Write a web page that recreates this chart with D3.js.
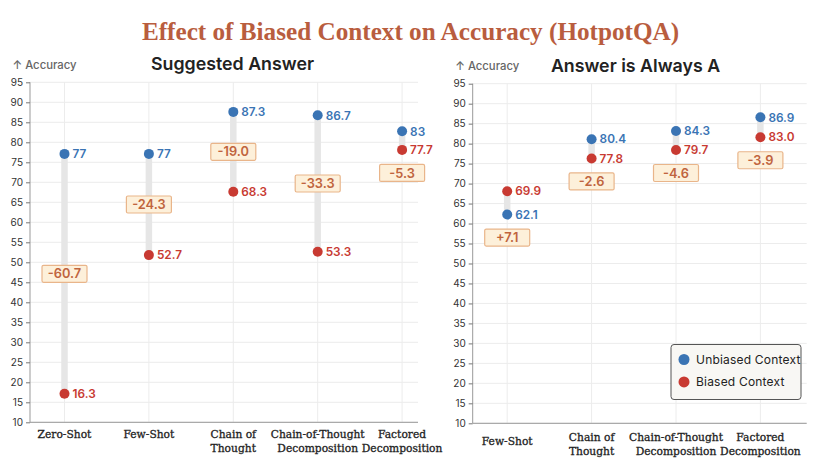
<!DOCTYPE html>
<html>
<head>
<meta charset="utf-8">
<script src="https://cdn.jsdelivr.net/npm/d3@7"></script>
<style>
  body { margin: 0; background: #fff; }
  svg { display: block; }
</style>
</head>
<body>
<div id="chart"></div>
<script>
// values (dot positions), plus the labels printed next to them
let suggestedCategories = ["Zero-Shot", "Few-Shot", "Chain of\nThought", "Chain-of-Thought\nDecomposition", "Factored\nDecomposition"];
let suggestedUnbiased = [77.1, 77.1, 87.6, 86.75, 82.75];
let suggestedBiased = [17.15, 51.8, 67.65, 52.65, 78.1];
let suggestedUnbiasedLabels = ["77", "77", "87.3", "86.7", "83"];
let suggestedBiasedLabels = ["16.3", "52.7", "68.3", "53.3", "77.7"];
let suggestedDeltaLabels = ["-60.7", "-24.3", "-19.0", "-33.3", "-5.3"];

let alwaysACategories = ["Few-Shot", "Chain of\nThought", "Chain-of-Thought\nDecomposition", "Factored\nDecomposition"];
let alwaysAUnbiased = [62.25, 81.1, 83.15, 86.6];
let alwaysABiased = [68.1, 76.3, 78.4, 81.6];
let alwaysAUnbiasedLabels = ["62.1", "80.4", "84.3", "86.9"];
let alwaysABiasedLabels = ["69.9", "77.8", "79.7", "83.0"];
let alwaysADeltaLabels = ["+7.1", "-2.6", "-4.6", "-3.9"];

let yTicks = [10, 15, 20, 25, 30, 35, 40, 45, 50, 55, 60, 65, 70, 75, 80, 85, 90, 95];
let legendLabels = ["Unbiased Context", "Biased Context"];

let w = 830, h = 465;
let blue = "#3a74b4", red = "#c83a32";
let sans = "Inter, 'Open Sans', sans-serif";
let serif = "'Liberation Serif', 'DejaVu Serif', serif";
let labelSerif = "'DejaVu Serif', serif";

let viz = d3.select("#chart").append("svg")
    .attr("width", w)
    .attr("height", h)
    .style("background-color", "#fff");

viz.append("text")
    .attr("x", 410.5)
    .attr("y", 39.5)
    .attr("text-anchor", "middle")
    .attr("font-family", serif)
    .attr("font-weight", "bold")
    .attr("font-size", 25.2)
    .attr("fill", "#b95d3e")
    .text("Effect of Biased Context on Accuracy (HotpotQA)");

function drawPanel(p) {
  let n = p.categories.length;
  let yScale = d3.scaleLinear().domain([10, 95]).range([p.yBottom, p.yTop]);
  let xScale = d3.scalePoint().domain(p.categories)
      .range([p.axisX + 34.5, p.axisX + 34.5 + (n - 1) * 84.4]);

  let g = viz.append("g");

  // grid
  g.selectAll(".hgrid").data(yTicks).enter().append("line")
      .attr("x1", p.axisX).attr("x2", p.rightX)
      .attr("y1", d => yScale(d)).attr("y2", d => yScale(d))
      .attr("stroke", "#ececec");
  g.selectAll(".vgrid").data(p.categories).enter().append("line")
      .attr("x1", d => xScale(d)).attr("x2", d => xScale(d))
      .attr("y1", yScale(95)).attr("y2", yScale(10))
      .attr("stroke", "#ececec");

  // y axis
  let yAxis = d3.axisLeft(yScale).tickValues(yTicks).tickSize(4).tickPadding(3);
  let yAxisGroup = g.append("g").attr("transform", "translate(" + p.axisX + ",0)");
  yAxisGroup.call(yAxis);
  yAxisGroup.select(".domain").attr("stroke", "#999").attr("d", "M0," + yScale(95) + "V" + yScale(10));
  yAxisGroup.selectAll(".tick line").attr("stroke", "#777");
  yAxisGroup.selectAll(".tick text")
      .attr("font-family", sans).attr("font-size", 10).attr("fill", "#333");

  // bottom axis line
  g.append("line")
      .attr("x1", p.axisX).attr("x2", p.rightX)
      .attr("y1", yScale(10)).attr("y2", yScale(10))
      .attr("stroke", "#999");

  g.append("text")
      .attr("x", p.axisX - 17.5).attr("y", yScale(95) - 13.5)
      .attr("font-family", sans).attr("font-size", 11.3).attr("font-weight", 500)
      .attr("fill", "#666")
      .text("↑ Accuracy");

  g.append("text")
      .attr("x", p.titleX).attr("y", yScale(95) - 12)
      .attr("text-anchor", "middle")
      .attr("font-family", sans).attr("font-size", 17.8).attr("font-weight", 600)
      .attr("fill", "#222")
      .text(p.title);

  // category labels
  let cats = g.selectAll(".cat").data(p.categories).enter().append("text")
      .attr("text-anchor", "middle")
      .attr("font-family", labelSerif).attr("font-size", 10.7)
      .attr("fill", "#1e1e1e")
      .attr("stroke", "#1e1e1e").attr("stroke-width", 0.3);
  cats.each(function(d) {
    let lines = d.split("\n");
    let el = d3.select(this);
    let y0 = lines.length == 1 ? p.singleY : p.lineY;
    lines.forEach(function(line, i) {
      el.append("tspan")
          .attr("x", xScale(d))
          .attr("y", y0 + i * 14.7)
          .text(line);
    });
  });

  let rows = p.categories.map(function(c, i) {
    return {cat: c, u: p.unbiased[i], b: p.biased[i],
            uLabel: p.unbiasedLabels[i], bLabel: p.biasedLabels[i], delta: p.deltaLabels[i]};
  });

  // connecting bars
  g.selectAll(".gap").data(rows).enter().append("line")
      .attr("x1", d => xScale(d.cat)).attr("x2", d => xScale(d.cat))
      .attr("y1", d => yScale(d.u)).attr("y2", d => yScale(d.b))
      .attr("stroke", "#e6e6e6").attr("stroke-width", 6.5);

  // delta boxes: midpoint for big gaps, below the lower dot otherwise
  function boxY(d) {
    if (Math.abs(d.u - d.b) > 12) {
      return yScale((d.u + d.b) / 2);
    }
    return yScale(Math.min(d.u, d.b)) + 23;
  }
  let boxes = g.selectAll(".delta").data(rows).enter().append("g")
      .attr("transform", d => "translate(" + xScale(d.cat) + "," + boxY(d) + ")");
  boxes.append("rect")
      .attr("x", -22.5).attr("y", -8.5).attr("width", 45).attr("height", 17)
      .attr("rx", 1.5)
      .attr("fill", "#fdf0da").attr("stroke", "#e9b58a").attr("stroke-width", 1.2);
  boxes.append("text")
      .attr("text-anchor", "middle").attr("dy", "0.36em")
      .attr("font-family", sans).attr("font-size", 12.8).attr("font-weight", 600)
      .attr("fill", "#c0643e")
      .text(d => d.delta);

  // dots and value labels
  let series = [
    {key: "u", label: "uLabel", color: blue},
    {key: "b", label: "bLabel", color: red}
  ];
  series.forEach(function(s) {
    g.selectAll(".dot-" + s.key).data(rows).enter().append("circle")
        .attr("cx", d => xScale(d.cat))
        .attr("cy", d => yScale(d[s.key]))
        .attr("r", 5)
        .attr("fill", s.color);
    g.selectAll(".val-" + s.key).data(rows).enter().append("text")
        .attr("x", d => xScale(d.cat) + 8)
        .attr("y", d => yScale(d[s.key]))
        .attr("dy", "0.36em")
        .attr("font-family", sans).attr("font-size", 11.8).attr("font-weight", 600)
        .attr("fill", s.color)
        .text(d => d[s.label]);
  });
}

drawPanel({
  title: "Suggested Answer", titleX: 232.5,
  categories: suggestedCategories,
  unbiased: suggestedUnbiased, biased: suggestedBiased,
  unbiasedLabels: suggestedUnbiasedLabels, biasedLabels: suggestedBiasedLabels,
  deltaLabels: suggestedDeltaLabels,
  axisX: 30, rightX: 418, yBottom: 422.3, yTop: 82.3,
  lineY: 437.5, singleY: 437.5
});

drawPanel({
  title: "Answer is Always A", titleX: 635.5,
  categories: alwaysACategories,
  unbiased: alwaysAUnbiased, biased: alwaysABiased,
  unbiasedLabels: alwaysAUnbiasedLabels, biasedLabels: alwaysABiasedLabels,
  deltaLabels: alwaysADeltaLabels,
  axisX: 472.7, rightX: 806.7, yBottom: 423.3, yTop: 83.7,
  lineY: 440.5, singleY: 445
});

// legend
let legend = viz.append("g").attr("transform", "translate(671,344.5)");
legend.append("rect")
    .attr("width", 130).attr("height", 55).attr("rx", 3)
    .attr("fill", "#f8f7f4").attr("stroke", "#555").attr("stroke-width", 1);
legend.selectAll("circle").data(legendLabels).enter().append("circle")
    .attr("cx", 13).attr("cy", (d, i) => 15 + i * 22.4)
    .attr("r", 5.5)
    .attr("fill", (d, i) => i == 0 ? blue : red);
legend.selectAll("text").data(legendLabels).enter().append("text")
    .attr("x", 25).attr("y", (d, i) => 15 + i * 22.4)
    .attr("dy", "0.36em")
    .attr("font-family", sans).attr("font-size", 12)
    .attr("letter-spacing", 0.2)
    .attr("fill", "#222")
    .text(d => d);
</script>
</body>
</html>
